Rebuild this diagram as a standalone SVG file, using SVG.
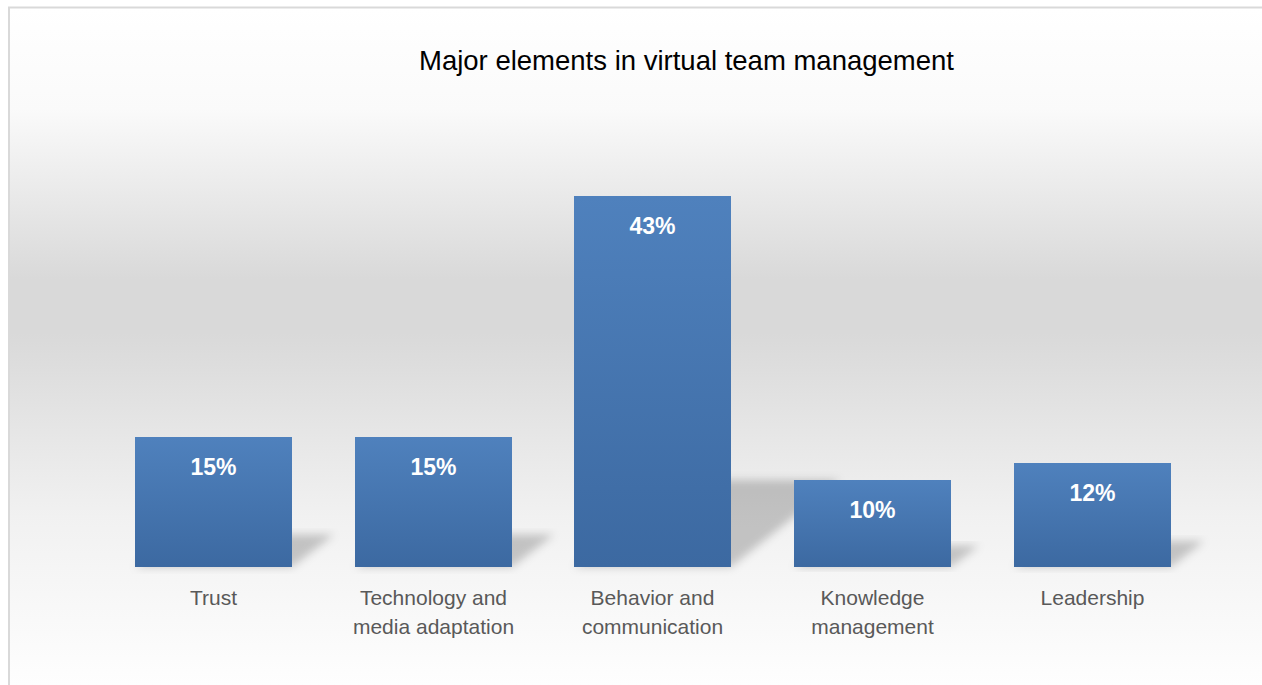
<svg xmlns="http://www.w3.org/2000/svg" width="1262" height="685" viewBox="0 0 1262 685">
  <defs>
    <linearGradient id="bg" gradientUnits="userSpaceOnUse" x1="0" y1="8" x2="0" y2="685">
      <stop offset="0" stop-color="#ffffff"/>
      <stop offset="0.15" stop-color="#fafafa"/>
      <stop offset="0.40" stop-color="#d9d9d9"/>
      <stop offset="0.48" stop-color="#d9d9d9"/>
      <stop offset="0.75" stop-color="#f1f1f1"/>
      <stop offset="1" stop-color="#fefefe"/>
    </linearGradient>
    <linearGradient id="barFill" x1="0" y1="0" x2="0" y2="1">
      <stop offset="0" stop-color="#4f81bd"/>
      <stop offset="1" stop-color="#3c69a1"/>
    </linearGradient>
    <filter id="blur" x="-20%" y="-20%" width="140%" height="140%">
      <feGaussianBlur stdDeviation="4"/>
    </filter>
    <style>
      .bar { fill: url(#barFill); }
      .shadow { fill: #000000; fill-opacity: 0.2; filter: url(#blur); }
      .val { font-family: "Liberation Sans", Arial, sans-serif; font-weight: bold; font-size: 23px; fill: #ffffff; text-anchor: middle; }
      .cat { font-family: "Liberation Sans", Arial, sans-serif; font-size: 21px; fill: #595959; text-anchor: middle; }
      .title { font-family: "Liberation Sans", Arial, sans-serif; font-size: 27.5px; fill: #000000; text-anchor: middle; }
    </style>
  </defs>

  <rect x="0" y="0" width="1262" height="685" fill="#ffffff"/>
  <rect id="chart-area" x="9" y="7.5" width="1262" height="690" fill="url(#bg)" stroke="#d9d9d9" stroke-width="2"/>

  <text class="title" x="686.5" y="70">Major elements in virtual team management</text>

  <g id="shadows">
    <polygon class="shadow" points="135,567 292,567 334,534.5 177,534.5"/>
    <polygon class="shadow" points="355,567 512,567 554,534.5 397,534.5"/>
    <polygon class="shadow" points="574,567 731,567 840,480 683,480"/>
    <polygon class="shadow" points="794,567 951,567 979,545.5 822,545.5"/>
    <polygon class="shadow" points="1014,567 1171,567 1204,541 1047,541"/>
  </g>

  <g id="bar-trust">
    <rect class="bar" x="135" y="437" width="157" height="130"/>
    <text class="val" x="213.5" y="475">15%</text>
    <text class="cat" x="213.5" y="605">Trust</text>
  </g>
  <g id="bar-technology">
    <rect class="bar" x="355" y="437" width="157" height="130"/>
    <text class="val" x="433.5" y="475">15%</text>
    <text class="cat" x="433.5" y="605">Technology and</text>
    <text class="cat" x="433.5" y="634">media adaptation</text>
  </g>
  <g id="bar-behavior">
    <rect class="bar" x="574" y="196" width="157" height="371"/>
    <text class="val" x="652.5" y="234">43%</text>
    <text class="cat" x="652.5" y="605">Behavior and</text>
    <text class="cat" x="652.5" y="634">communication</text>
  </g>
  <g id="bar-knowledge">
    <rect class="bar" x="794" y="480" width="157" height="87"/>
    <text class="val" x="872.5" y="518">10%</text>
    <text class="cat" x="872.5" y="605">Knowledge</text>
    <text class="cat" x="872.5" y="634">management</text>
  </g>
  <g id="bar-leadership">
    <rect class="bar" x="1014" y="463" width="157" height="104"/>
    <text class="val" x="1092.5" y="501">12%</text>
    <text class="cat" x="1092.5" y="605">Leadership</text>
  </g>
  <g id="connectors"/>
</svg>
